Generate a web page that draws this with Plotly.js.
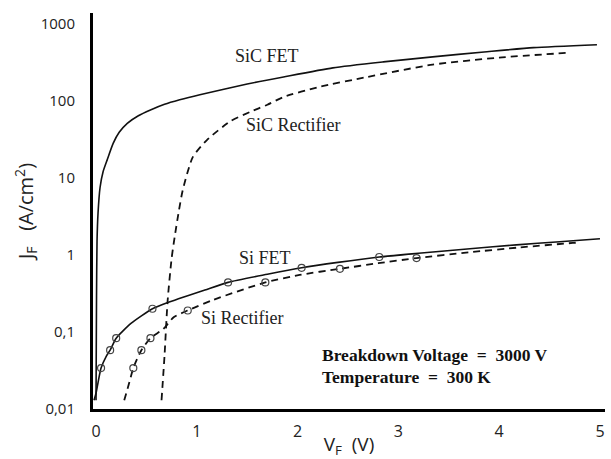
<!DOCTYPE html>
<html>
<head>
<meta charset="utf-8">
<script src="https://cdn.plot.ly/plotly-3.0.1.min.js"></script>
<style>html,body{margin:0;padding:0;background:#fff;}#chart{width:611px;height:459px;}</style>
</head>
<body>
<div id="chart"></div>
<script>
// SiC FET (solid)
const sicFetV = [0.0, 0.005, 0.01, 0.02, 0.04, 0.07, 0.11, 0.17, 0.23, 0.31, 0.42, 0.54, 0.68, 0.83, 1.03, 1.5, 1.86, 2.35, 2.85, 3.34, 3.85, 4.34, 4.97];
const sicFetJ = [0.013, 0.3, 1.5, 3.5, 7.5, 12, 17, 28, 39, 51, 64, 76, 90, 103, 120, 165, 204, 268, 320, 372, 430, 490, 535];
// SiC Rectifier (dashed)
const sicRectV = [0.65, 0.68, 0.71, 0.75, 0.78, 0.82, 0.86, 0.96, 1.1, 1.33, 1.53, 1.7, 1.86, 2.2, 2.69, 3.34, 4.0, 4.68];
const sicRectJ = [0.013, 0.05, 0.25, 0.9, 1.7, 3.6, 6.9, 18.6, 31, 54, 72, 89, 112, 150, 204, 295, 364, 420];
// Si FET (solid)
const siFetV = [-0.02, 0.0, 0.02, 0.05, 0.1, 0.14, 0.2, 0.35, 0.56, 0.71, 1.08, 1.31, 1.7, 2.04, 2.4, 2.81, 3.2, 3.71, 4.17, 4.6, 5.0];
const siFetJ = [0.013, 0.016, 0.022, 0.034, 0.048, 0.058, 0.083, 0.13, 0.2, 0.24, 0.35, 0.44, 0.56, 0.68, 0.8, 0.94, 1.05, 1.2, 1.35, 1.48, 1.62];
// Si Rectifier (dashed)
const siRectV = [0.28, 0.33, 0.37, 0.45, 0.54, 0.67, 0.77, 0.91, 1.16, 1.68, 2.02, 2.42, 2.8, 3.18, 3.7, 4.2, 4.73, 4.8];
const siRectJ = [0.013, 0.022, 0.034, 0.058, 0.083, 0.11, 0.155, 0.19, 0.26, 0.44, 0.55, 0.66, 0.78, 0.91, 1.08, 1.25, 1.43, 1.45];
// measured points (open circles)
const siFetMarkV = [0.05, 0.14, 0.2, 0.56, 1.31, 2.04, 2.81];
const siFetMarkJ = [0.034, 0.058, 0.083, 0.2, 0.44, 0.68, 0.94];
const siRectMarkV = [0.37, 0.45, 0.54, 0.91, 1.68, 2.42, 3.18];
const siRectMarkJ = [0.034, 0.058, 0.083, 0.19, 0.44, 0.66, 0.91];
// axis ticks
const yTickVals = [0.01, 0.1, 1, 10, 100, 1000];
const yTickText = ['0,01', '0,1', '1', '10', '100', '1000'];
const xTickVals = [0, 1, 2, 3, 4, 5];

const solid = () => ({color: '#111', width: 1.6, shape: 'spline', smoothing: 0.6});
const dashed = () => ({color: '#111', width: 1.8, dash: '7px,5px', shape: 'spline', smoothing: 0.6});
const mk = {symbol: 'circle-open', size: 7, color: '#444', line: {width: 1.2, color: '#444'}};

const traces = [
  {x: sicFetV, y: sicFetJ, mode: 'lines', line: solid(), name: 'SiC FET'},
  {x: sicRectV, y: sicRectJ, mode: 'lines', line: dashed(), name: 'SiC Rectifier'},
  {x: siFetV, y: siFetJ, mode: 'lines', line: solid(), name: 'Si FET'},
  {x: siRectV, y: siRectJ, mode: 'lines', line: dashed(), name: 'Si Rectifier'},
  {x: siFetMarkV, y: siFetMarkJ, mode: 'markers', marker: mk, name: 'Si FET data'},
  {x: siRectMarkV, y: siRectMarkJ, mode: 'markers', marker: mk, name: 'Si Rectifier data'}
];

const serif = {family: 'Liberation Serif, Times New Roman, serif', size: 18, color: '#222'};
const serifB = {family: 'Liberation Serif, Times New Roman, serif', size: 17.5, color: '#111', weight: 'bold'};

const layout = {
  width: 611, height: 459,
  margin: {l: 93, r: 6, t: 13, b: 50},
  paper_bgcolor: '#fff', plot_bgcolor: '#fff',
  showlegend: false,
  font: {family: 'Open Sans, sans-serif', color: '#222'},
  xaxis: {
    range: [-0.03, 5.05], tickvals: xTickVals, ticks: '', showgrid: false, zeroline: false,
    showline: true, linewidth: 3, linecolor: '#000',
    tickfont: {family: 'Open Sans, sans-serif', size: 16, color: '#222'},
    ticklabelstandoff: 6,
    title: {text: 'V<sub>F</sub>\u00a0 (V)', font: {family: 'Open Sans, sans-serif', size: 19, color: '#222'}, standoff: 5}
  },
  yaxis: {
    type: 'log', range: [-2, 3.14], tickvals: yTickVals, ticktext: yTickText, ticks: '',
    showgrid: false, zeroline: false, showline: true, linewidth: 3, linecolor: '#000',
    tickfont: {family: 'Open Sans, sans-serif', size: 15, color: '#222'},
    ticklabelstandoff: 12,
    title: {text: 'J<sub>F</sub>\u00a0\u00a0 (A/cm<sup>2</sup>)', font: {family: 'Open Sans, sans-serif', size: 20, color: '#222'}, standoff: 2}
  },
  annotations: [
    {x: 1.7, y: 2.58, xref: 'x', yref: 'y', text: 'SiC FET', showarrow: false, font: serif},
    {x: 1.95, y: 1.68, xref: 'x', yref: 'y', text: 'SiC Rectifier', showarrow: false, font: serif},
    {x: 1.68, y: -0.04, xref: 'x', yref: 'y', text: 'Si FET', showarrow: false, font: serif},
    {x: 1.45, y: -0.82, xref: 'x', yref: 'y', text: 'Si Rectifier', showarrow: false, font: serif},
    {x: 2.22, y: -1.30, xref: 'x', yref: 'y', xanchor: 'left', text: 'Breakdown Voltage \u00a0=\u00a0 3000 V', showarrow: false, font: serifB},
    {x: 2.22, y: -1.585, xref: 'x', yref: 'y', xanchor: 'left', text: 'Temperature \u00a0=\u00a0 300 K', showarrow: false, font: serifB}
  ]
};

Plotly.newPlot('chart', traces, layout, {staticPlot: true, displayModeBar: false});
</script>
</body>
</html>
